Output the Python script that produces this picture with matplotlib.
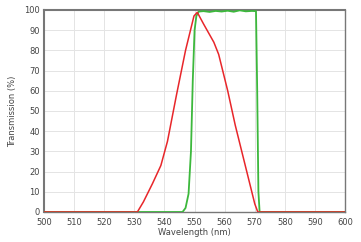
import numpy as np
import matplotlib.pyplot as plt

# values
red_wl = [500, 531, 533, 536, 538.8, 541, 544, 547, 549.8, 550.9, 553, 556.4, 558, 561, 563.5, 566, 568, 570, 571, 600]
red_tr = [0, 0, 5, 14, 23, 35, 58, 80, 97, 98.8, 93, 84, 78, 60, 43, 28, 16, 4, 0, 0]

green_wl = [500, 546, 547, 548, 548.8, 549.4, 550, 550.6, 551.4, 553, 555, 557, 559, 561, 563, 565, 567, 569, 570.4, 570.8, 571.2, 571.6, 600]
green_tr = [0, 0, 2, 9, 30, 65, 90, 97, 99.2, 99.4, 99.0, 99.5, 99.2, 99.6, 99.1, 99.8, 99.3, 99.5, 99.4, 60, 10, 0, 0]

xticks = np.arange(500, 601, 10)
yticks = np.arange(0, 101, 10)

fig = plt.figure(figsize=(3.61, 2.42), dpi=100)
ax = fig.add_axes([0.122, 0.124, 0.834, 0.835])

ax.plot(green_wl, green_tr, color='#3cb83c', lw=1.3, zorder=3)
ax.plot(red_wl, red_tr, color='#e8262a', lw=1.1, zorder=4)

ax.set_xlim(500, 600)
ax.set_ylim(0, 100)
ax.set_xticks(xticks)
ax.set_yticks(yticks)
ax.grid(True, color='#e4e4e4', lw=0.7)
ax.tick_params(labelsize=6, colors='#444444', length=0)
ax.tick_params(axis='x', pad=4)
ax.tick_params(axis='y', pad=3)
for s in ax.spines.values():
    s.set_color('#777777')
    s.set_linewidth(1.0)
ax.spines['top'].set_linewidth(1.5)
ax.spines['left'].set_linewidth(1.5)

ax.set_xlabel('Wavelength (nm)', fontsize=6, color='#444444', labelpad=1)
ax.set_ylabel('Transmission (%)', fontsize=6, color='#444444', labelpad=5)

fig.savefig('out.png', dpi=100)
